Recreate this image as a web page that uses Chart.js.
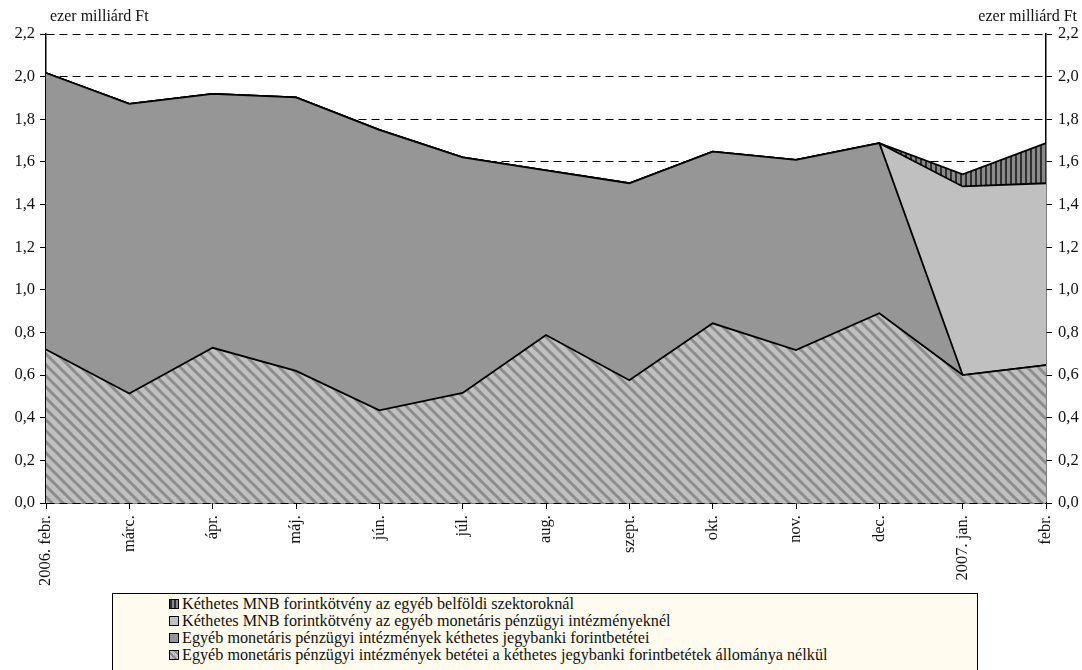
<!DOCTYPE html>
<html>
<head>
<meta charset="utf-8">
<script src="https://cdn.jsdelivr.net/npm/chart.js@4.4.1/dist/chart.umd.min.js"></script>
<style>
  body { margin: 0; background: #fff; }
  #wrap { position: relative; width: 1082px; height: 670px; overflow: hidden; }
  #legend {
    position: absolute; left: 112px; top: 593px; width: 866px; height: 100px;
    background: #fffbef; border: 1px solid #000; box-sizing: border-box;
    font-family: "Liberation Serif", "Times New Roman", "DejaVu Serif", serif; font-size: 16.2px; color: #111;
    padding: 2px 0 0 56px;
  }
  .row { height: 17px; line-height: 17px; white-space: nowrap; }
  .sw { display: inline-block; width: 8px; height: 8px; border: 1px solid #000; margin-right: 3px; vertical-align: 0; }
</style>
</head>
<body>
<div id="wrap">
  <canvas id="chart" width="1082" height="670"></canvas>
  <div id="legend"></div>
</div>
<script>
// Months (x axis)
const labels = ["2006. febr.", "márc.", "ápr.", "máj.", "jún.", "júl.", "aug.", "szept.", "okt.", "nov.", "dec.", "2007. jan.", "febr."];

// Series, bottom of the stack first (ezer milliárd Ft)
const depositsExcl = [0.72, 0.514, 0.728, 0.62, 0.435, 0.516, 0.788, 0.576, 0.843, 0.717, 0.89, 0.60, 0.647];
const twoWeekDeposits = [1.297, 1.358, 1.191, 1.283, 1.315, 1.105, 0.772, 0.924, 0.805, 0.893, 0.798, 0, 0];
const bondsMfi = [0, 0, 0, 0, 0, 0, 0, 0, 0, 0, 0, 0.885, 0.853];
const bondsOther = [0, 0, 0, 0, 0, 0, 0, 0, 0, 0, 0, 0.057, 0.188];

const seriesNames = [
    "Egyéb monetáris pénzügyi intézmények betétei a kéthetes jegybanki forintbetétek állománya nélkül",
    "Egyéb monetáris pénzügyi intézmények kéthetes jegybanki forintbetétei",
    "Kéthetes MNB forintkötvény az egyéb monetáris pénzügyi intézményeknél",
    "Kéthetes MNB forintkötvény az egyéb belföldi szektoroknál"
];

const unitLabel = "ezer milliárd Ft";
const FONT = '"Liberation Serif", "Times New Roman", "DejaVu Serif", serif';

// Pattern fills
function diagPattern() {
    const s = 11;
    const c = document.createElement("canvas");
    c.width = s; c.height = s;
    const g = c.getContext("2d");
    g.fillStyle = "#c0c0c0";
    g.fillRect(0, 0, s, s);
    g.strokeStyle = "#8c8c8c";
    g.lineWidth = 3;
    for (const off of [-s, 0, s]) {
        g.beginPath();
        g.moveTo(off - 1, -1);
        g.lineTo(off + s + 1, s + 1);
        g.stroke();
    }
    return g.createPattern(c, "repeat");
}

function vertPattern() {
    const c = document.createElement("canvas");
    c.width = 5; c.height = 4;
    const g = c.getContext("2d");
    g.fillStyle = "#8a8a8a";
    g.fillRect(0, 0, 5, 4);
    g.fillStyle = "#303030";
    g.fillRect(0, 0, 2, 4);
    return g.createPattern(c, "repeat");
}

const ctx = document.getElementById("chart").getContext("2d");

const fmt = v => Number(v).toFixed(1).replace(".", ",");

// "ezer milliárd Ft" above both axes
const unitTitles = {
    id: "unitTitles",
    afterDraw(chart) {
        const { ctx, chartArea } = chart;
        ctx.save();
        ctx.font = "16px " + FONT;
        ctx.fillStyle = "#111";
        ctx.textBaseline = "alphabetic";
        ctx.textAlign = "left";
        ctx.fillText(unitLabel, chartArea.left + 4, chartArea.top - 13);
        ctx.textAlign = "right";
        ctx.fillText(unitLabel, chart.width - 5, chartArea.top - 13);
        ctx.restore();
    }
};

const line = {
    borderColor: "#000",
    borderWidth: 1.8,
    pointRadius: 0,
    tension: 0
};

const chart = new Chart(ctx, {
    type: "line",
    data: {
        labels: labels,
        datasets: [
            { ...line, label: seriesNames[0], data: depositsExcl, backgroundColor: diagPattern(), fill: "origin" },
            { ...line, label: seriesNames[1], data: twoWeekDeposits, backgroundColor: "#969696", fill: "-1" },
            { ...line, label: seriesNames[2], data: bondsMfi, backgroundColor: "#c0c0c0", fill: "-1" },
            { ...line, label: seriesNames[3], data: bondsOther, backgroundColor: vertPattern(), fill: "-1" }
        ]
    },
    options: {
        responsive: false,
        animation: false,
        layout: { padding: { top: 34, left: 0, right: 0, bottom: 0 } },
        scales: {
            x: {
                grid: { drawOnChartArea: false, color: "#000", tickLength: 6 },
                border: { color: "#000", width: 1.5 },
                ticks: {
                    color: "#111", font: { family: FONT, size: 16.5 },
                    minRotation: 90, maxRotation: 90, padding: 6, autoSkip: false
                },
                afterFit: s => { s.height = 167; }
            },
            y: {
                stacked: true,
                min: 0, max: 2.2,
                grid: { color: "#000", lineWidth: 1, tickLength: 6 },
                border: { color: "#000", width: 1.5, dash: [8, 5] },
                ticks: {
                    stepSize: 0.2, color: "#111", padding: 5,
                    font: { family: FONT, size: 16.5 },
                    callback: v => fmt(v)
                },
                afterFit: s => { s.width = 46; }
            },
            y2: {
                position: "right",
                min: 0, max: 2.2,
                grid: { drawOnChartArea: false, color: "#000", tickLength: 6 },
                border: { color: "#000", width: 1.5 },
                ticks: {
                    stepSize: 0.2, color: "#111", padding: 6,
                    font: { family: FONT, size: 16.5 },
                    callback: v => fmt(v)
                },
                afterFit: s => { s.width = 36; }
            }
        },
        plugins: {
            legend: { display: false },
            tooltip: { enabled: false }
        }
    },
    plugins: [unitTitles]
});

// Legend box (top series first)
const swatches = [
    "repeating-linear-gradient(90deg, #303030 0 2px, #8a8a8a 2px 4px)",
    "#c0c0c0",
    "#969696",
    "repeating-linear-gradient(45deg, #c0c0c0 0 3px, #8c8c8c 3px 5px)"
];
const legend = document.getElementById("legend");
[3, 2, 1, 0].forEach((idx, i) => {
    const row = document.createElement("div");
    row.className = "row";
    const sw = document.createElement("span");
    sw.className = "sw";
    sw.style.background = swatches[i];
    row.appendChild(sw);
    row.appendChild(document.createTextNode(seriesNames[idx]));
    legend.appendChild(row);
});
</script>
</body>
</html>
